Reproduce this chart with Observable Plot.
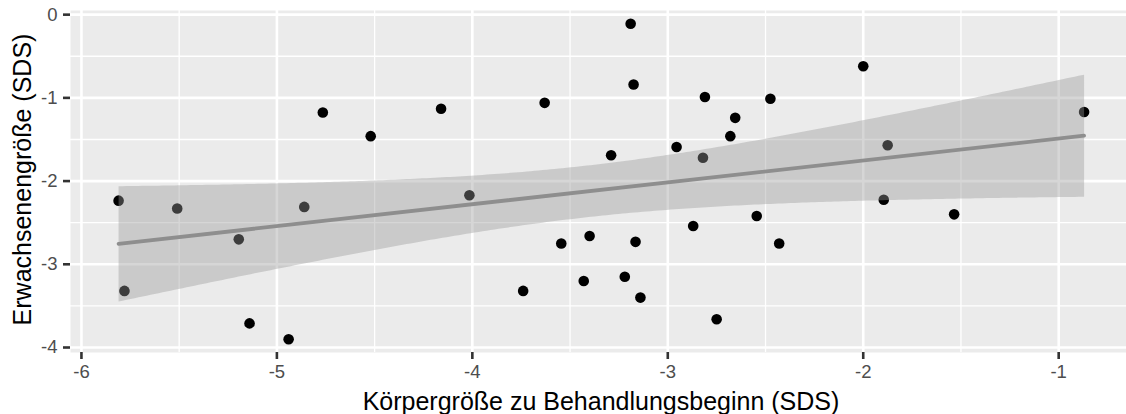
<!DOCTYPE html>
<html>
<head>
<meta charset="utf-8">
<script src="https://cdn.jsdelivr.net/npm/d3@7"></script>
<script src="https://cdn.jsdelivr.net/npm/@observablehq/plot@0.6"></script>
<style>
  html, body { margin: 0; padding: 0; background: #ffffff; overflow: hidden; }
  #chart svg { display: block; }
</style>
</head>
<body>
<div id="chart"></div>
<script>
// Body height SDS at treatment start (x) vs. adult height SDS (y), one point per patient
const startSDS = [-5.81, -5.78, -5.51, -5.195, -5.14, -4.94, -4.86, -4.765, -4.52, -4.16,
                  -4.015, -3.74, -3.63, -3.545, -3.40, -3.43, -3.29, -3.22, -3.19, -3.175,
                  -3.165, -3.14, -2.955, -2.87, -2.82, -2.81, -2.75, -2.68, -2.655, -2.545,
                  -2.475, -2.43, -2.0, -1.895, -1.875, -1.535, -0.87];
const adultSDS = [-2.235, -3.32, -2.33, -2.70, -3.71, -3.90, -2.31, -1.175, -1.46, -1.13,
                  -2.17, -3.32, -1.06, -2.75, -2.66, -3.20, -1.69, -3.15, -0.11, -0.84,
                  -2.73, -3.40, -1.59, -2.54, -1.72, -0.99, -3.66, -1.46, -1.24, -2.42,
                  -1.01, -2.75, -0.62, -2.225, -1.57, -2.40, -1.17];

const xMajor = [-6, -5, -4, -3, -2, -1];
const xMinor = [-5.5, -4.5, -3.5, -2.5, -1.5];
const yMajor = [0, -1, -2, -3, -4];
const yMinor = [-0.5, -1.5, -2.5, -3.5];

const xTitle = "Körpergröße zu Behandlungsbeginn (SDS)";
const yTitle = "Erwachsenengröße (SDS)";

const points = startSDS.map((x, i) => ({x, y: adultSDS[i]}));

const font = "'Liberation Sans', Arial, Helvetica, sans-serif";

const chart = Plot.plot({
  width: 1126,
  height: 414,
  marginLeft: 70,
  marginRight: 0,
  marginTop: 10,
  marginBottom: 62,
  style: {fontFamily: font, background: "#ffffff", overflow: "hidden"},
  x: {domain: [-6.056, -0.653]},
  y: {domain: [-4.06, 0.05]},
  marks: [
    // panel background and grid
    Plot.frame({fill: "#ebebeb", stroke: "none"}),
    Plot.gridX(xMinor, {stroke: "#ffffff", strokeOpacity: 1, strokeWidth: 1.3}),
    Plot.gridY(yMinor, {stroke: "#ffffff", strokeOpacity: 1, strokeWidth: 1.3}),
    Plot.gridX(xMajor, {stroke: "#ffffff", strokeOpacity: 1, strokeWidth: 2.6}),
    Plot.gridY(yMajor, {stroke: "#ffffff", strokeOpacity: 1, strokeWidth: 2.6}),
    // observations
    Plot.dot(points, {x: "x", y: "y", r: 5.3, fill: "#000000", stroke: "none"}),
    // linear fit with 95% confidence band
    Plot.linearRegressionY(points, {
      x: "x", y: "y", ci: 0.95,
      stroke: "#8e8e8e", strokeWidth: 3.8,
      fill: "#999999", fillOpacity: 0.4
    }),
    // axes
    Plot.axisX(xMajor, {
      tickSize: 7, tickPadding: 5, strokeWidth: 2.6,
      stroke: "#333333", fill: "#4d4d4d", fontSize: 18.5, label: null,
      tickFormat: d => String(d).replace("−", "-")
    }),
    Plot.axisY(yMajor, {
      tickSize: 7, tickPadding: 6, strokeWidth: 2.6,
      stroke: "#333333", fill: "#4d4d4d", fontSize: 18.5, label: null,
      tickFormat: d => String(d).replace("−", "-")
    }),
    // axis titles
    Plot.text([xTitle], {
      text: d => d, frameAnchor: "bottom", textAnchor: "middle", lineAnchor: "top",
      dx: 2.5, dy: 39.5, fontSize: 25, fill: "#000000"
    }),
    Plot.text([yTitle], {
      text: d => d, frameAnchor: "left", textAnchor: "middle", lineAnchor: "top",
      rotate: -90, dx: -57, dy: -2, fontSize: 25, fill: "#000000"
    })
  ]
});

document.getElementById("chart").append(chart);
</script>
</body>
</html>
